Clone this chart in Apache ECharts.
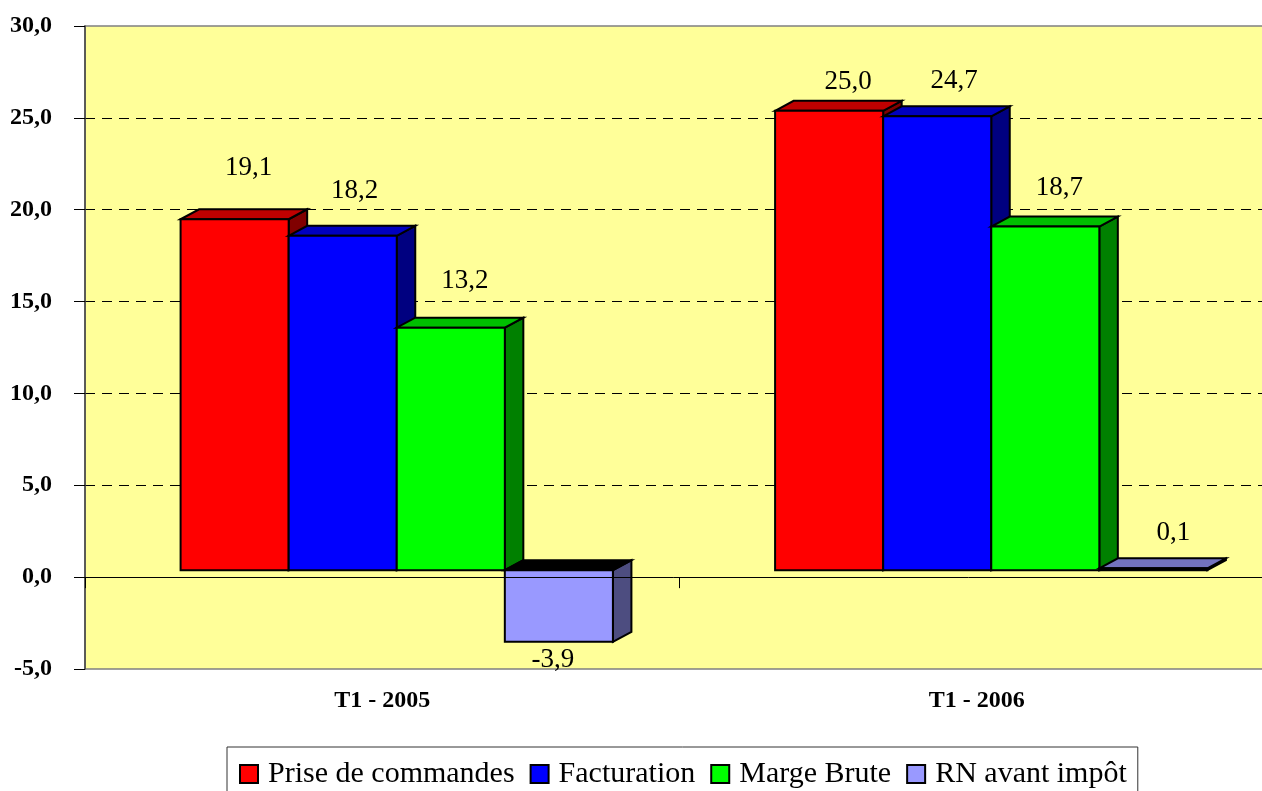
<!DOCTYPE html>
<html>
<head>
<meta charset="utf-8">
<style>
  html, body { margin: 0; padding: 0; background: #fff; }
  #main { width: 1262px; height: 791px; }
</style>
</head>
<body>
<div id="main"></div>
<script src="https://cdn.jsdelivr.net/npm/echarts@6/dist/echarts.min.js"></script>
<script>
var categories = ['T1 - 2005', 'T1 - 2006']
var priseCommandes = [19.1, 25.0]
var facturation = [18.2, 24.7]
var margeBrute = [13.2, 18.7]
var rnAvantImpot = [-3.9, 0.1]
var tickLabels = [-5, 0, 5, 10, 15, 20, 25, 30]

// les étiquettes ont été déplacées à la main dans le graphique d'origine
var labelShiftX = [[14, 12, 14, -6], [19, 17, 14, 20]]
var labelShiftY = [[51, 45, 47, -18], [29, 35, 39, 35]]

var serif = '"Liberation Serif", "Times New Roman", serif'
var depthX = 18.5
var depthY = 10
var floorOffset = 7 // le socle des barres est au dessus du zéro

function fr(v) {
  return v.toFixed(1).replace('.', ',')
}

function renderBar(params, api) {
  var s = params.seriesIndex
  var cat = api.value(0)
  var val = api.value(1)
  var band = api.size([1, 0])[0]
  var w = band * 0.1818
  var center = api.coord([cat, 0])[0] + 14.5
  var x = center + (s - 2) * w
  var y0 = api.coord([cat, 0])[1] - floorOffset
  var y1 = api.coord([cat, val])[1] - floorOffset
  var top = Math.min(y0, y1)
  var bottom = Math.max(y0, y1)
  var c = shades[s]
  var line = { stroke: '#000', lineWidth: 2, lineJoin: 'miter' }
  var topColor = val < 0 ? '#000' : c.top
  return {
    type: 'group',
    children: [
      {
        type: 'polygon',
        shape: { points: [[x + w, top], [x + w + depthX, top - depthY], [x + w + depthX, bottom - depthY], [x + w, bottom]] },
        style: Object.assign({ fill: c.side }, line)
      },
      {
        type: 'polygon',
        shape: { points: [[x, top], [x + depthX, top - depthY], [x + w + depthX, top - depthY], [x + w, top]] },
        style: Object.assign({ fill: topColor }, line)
      },
      {
        type: 'rect',
        shape: { x: x, y: top, width: w, height: bottom - top },
        style: Object.assign({ fill: c.front }, line)
      },
      {
        type: 'text',
        style: {
          text: fr(val),
          x: x + w / 2 + labelShiftX[cat][s],
          y: (val < 0 ? bottom : top) - labelShiftY[cat][s],
          align: 'center',
          verticalAlign: 'middle',
          fontFamily: serif,
          fontSize: 27,
          fill: '#000'
        }
      }
    ]
  }
}

var shades = [
  { front: '#ff0000', top: '#bf0000', side: '#800000' },
  { front: '#0000ff', top: '#0000bf', side: '#000080' },
  { front: '#00ff00', top: '#00bf00', side: '#008000' },
  { front: '#9999ff', top: '#7373bf', side: '#4d4d80' }
]

function makeSeries(name, values, idx) {
  return {
    name: name,
    type: 'custom',
    renderItem: renderBar,
    clip: false,
    itemStyle: { color: shades[idx].front },
    encode: { x: 0, y: 1 },
    data: values.map(function (v, i) { return [i, v] })
  }
}

var myChart = echarts.init(document.getElementById('main'))
var option = {
  animation: false,
  backgroundColor: '#fff',
  grid: {
    left: 85,
    top: 26,
    width: 1189,
    height: 643,
    outerBoundsMode: 'none',
    show: true,
    backgroundColor: '#ffff99',
    borderColor: '#808080',
    borderWidth: 1.5
  },
  legend: {
    left: 227,
    top: 747,
    orient: 'horizontal',
    icon: 'rect',
    itemWidth: 18,
    itemHeight: 18,
    itemGap: 15,
    padding: [12, 11, 24, 12],
    borderColor: '#333',
    borderWidth: 1,
    backgroundColor: '#fff',
    itemStyle: { borderColor: '#000', borderWidth: 2 },
    textStyle: { fontFamily: serif, fontSize: 30, color: '#000', padding: [0, 0, 0, 5] },
    data: ['Prise de commandes', 'Facturation', 'Marge Brute', 'RN avant impôt']
  },
  xAxis: {
    type: 'category',
    data: categories,
    z: 10,
    axisLine: { onZero: true, lineStyle: { color: '#000', width: 1 } },
    axisTick: { show: true, length: 11, lineStyle: { color: '#000' } },
    axisLabel: { margin: 20, fontFamily: serif, fontWeight: 'bold', fontSize: 24, color: '#000' },
    splitLine: { show: false }
  },
  yAxis: {
    type: 'value',
    min: tickLabels[0],
    max: tickLabels[tickLabels.length - 1],
    interval: 5,
    axisLine: { show: true, lineStyle: { color: '#444', width: 1.5 } },
    axisTick: { show: true, length: 11, lineStyle: { color: '#000' } },
    axisLabel: {
      margin: 33,
      fontFamily: serif,
      fontWeight: 'bold',
      fontSize: 24,
      color: '#000',
      formatter: function (v) { return fr(v) }
    },
    splitLine: {
      show: true,
      showMinLine: false,
      showMaxLine: false,
      lineStyle: { color: '#000', type: [10, 7], width: 1 }
    }
  },
  series: [
    makeSeries('Prise de commandes', priseCommandes, 0),
    makeSeries('Facturation', facturation, 1),
    makeSeries('Marge Brute', margeBrute, 2),
    makeSeries('RN avant impôt', rnAvantImpot, 3)
  ]
}
option && myChart.setOption(option)
</script>
</body>
</html>
